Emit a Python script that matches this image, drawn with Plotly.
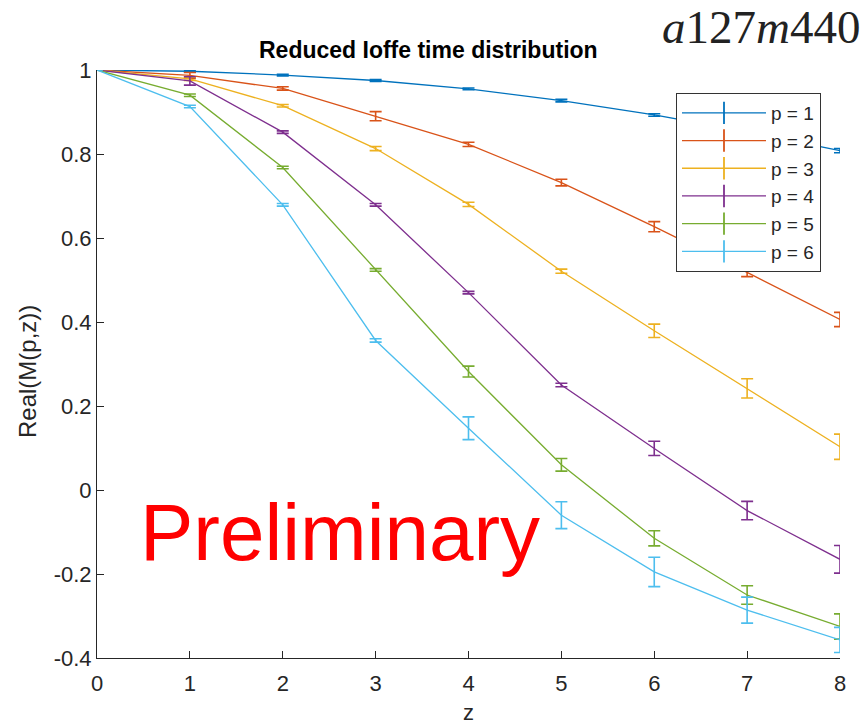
import plotly.graph_objects as go

z = [0, 1, 2, 3, 4, 5, 6, 7, 8]
labels = ["p = 1", "p = 2", "p = 3", "p = 4", "p = 5", "p = 6"]
colors = ["#0072BD", "#D95319", "#EDB120", "#7E2F8E", "#77AC30", "#4DBEEE"]

p1 = [1.0, 0.997, 0.988, 0.975, 0.955, 0.927, 0.893, 0.853, 0.808]
p2 = [1.0, 0.987, 0.956, 0.890, 0.823, 0.732, 0.627, 0.518, 0.406]
p3 = [1.0, 0.979, 0.915, 0.813, 0.680, 0.521, 0.379, 0.242, 0.103]
p4 = [1.0, 0.974, 0.852, 0.679, 0.470, 0.250, 0.099, -0.049, -0.165]
p5 = [1.0, 0.940, 0.768, 0.524, 0.282, 0.060, -0.115, -0.250, -0.325]
p6 = [1.0, 0.913, 0.679, 0.356, 0.147, -0.060, -0.195, -0.286, -0.357]

e1 = [0.0, 0.002, 0.002, 0.002, 0.002, 0.003, 0.003, 0.004, 0.005]
e2 = [0.0, 0.007, 0.004, 0.011, 0.005, 0.008, 0.012, 0.010, 0.017]
e3 = [0.0, 0.004, 0.003, 0.005, 0.005, 0.005, 0.016, 0.023, 0.030]
e4 = [0.0, 0.010, 0.003, 0.003, 0.003, 0.004, 0.017, 0.022, 0.033]
e5 = [0.0, 0.003, 0.003, 0.003, 0.013, 0.015, 0.018, 0.022, 0.030]
e6 = [0.0, 0.003, 0.003, 0.004, 0.027, 0.032, 0.035, 0.031, 0.030]

series = [p1, p2, p3, p4, p5, p6]
errors = [e1, e2, e3, e4, e5, e6]

fig = go.Figure()
for lab, col, ys, es in zip(labels, colors, series, errors):
    fig.add_trace(go.Scatter(
        x=z, y=ys, mode="lines", name=lab, showlegend=False,
        line=dict(color=col, width=1.3),
        error_y=dict(type="data", array=es, visible=True, color=col,
                     thickness=1.6, width=6),
    ))
# legend entries (line with vertical error-bar glyph, as in the original)
for lab, col in zip(labels, colors):
    fig.add_trace(go.Scatter(
        x=[None], y=[None], mode="lines+markers", name=lab,
        line=dict(color=col, width=1.3),
        marker=dict(symbol="line-ns-open", size=18,
                    line=dict(color=col, width=1.8)),
    ))

font = "Liberation Sans, Arial, sans-serif"
fig.update_layout(
    width=867, height=724,
    margin=dict(l=97, r=27, t=70, b=66),
    paper_bgcolor="white", plot_bgcolor="white",
    font=dict(family=font, size=21, color="#262626"),
    showlegend=True,
    legend=dict(x=(676 - 97) / 743, y=1 - (93 - 70) / 588,
                xanchor="left", yanchor="top",
                bgcolor="white", bordercolor="#333333", borderwidth=1,
                font=dict(size=19, color="#262626"), tracegroupgap=0,
                itemwidth=84),
    xaxis=dict(range=[0, 8], tickvals=[0, 1, 2, 3, 4, 5, 6, 7, 8],
               ticks="inside", ticklen=7, tickcolor="#262626",
               showline=True, linecolor="#262626", linewidth=1,
               showgrid=False, zeroline=False, automargin=False,
               tickfont=dict(size=22), ticklabelstandoff=6),
    yaxis=dict(range=[-0.4, 1.0], tickvals=[-0.4, -0.2, 0, 0.2, 0.4, 0.6, 0.8, 1],
               ticktext=["-0.4", "-0.2", "0", "0.2", "0.4", "0.6", "0.8", "1"],
               ticks="inside", ticklen=7, tickcolor="#262626",
               showline=True, linecolor="#262626", linewidth=1,
               showgrid=False, zeroline=False, automargin=False,
               tickfont=dict(size=22)),
)

fig.add_annotation(text="z", xref="paper", yref="paper",
                   x=(468 - 97) / 743, y=(658 - 712) / 588,
                   xanchor="center", yanchor="middle", showarrow=False,
                   font=dict(size=22, color="#262626", family=font))
fig.add_annotation(text="Real(M(p,z))", xref="paper", yref="paper",
                   x=(27 - 97) / 743, y=(658 - 372) / 588, textangle=-90,
                   xanchor="center", yanchor="middle", showarrow=False,
                   font=dict(size=24, color="#262626", family=font))
fig.add_annotation(text="<b>Reduced Ioffe time distribution</b>",
                   xref="paper", yref="paper",
                   x=(428 - 97) / 743, y=1 + (70 - 50) / 588,
                   xanchor="center", yanchor="middle", showarrow=False,
                   font=dict(size=23, color="#000000", family=font))
fig.add_annotation(text="<i>a</i>127<i>m</i>440",
                   xref="paper", yref="paper",
                   x=(862 - 97) / 743, y=1 + (70 - 27) / 588,
                   xanchor="right", yanchor="middle", showarrow=False,
                   font=dict(size=47, color="#222222",
                             family="Liberation Serif, DejaVu Serif, serif"))
fig.add_annotation(text="Preliminary", xref="x", yref="y",
                   x=(340 - 97) / 743 * 8, y=(490 - 532) / 420,
                   xanchor="center", yanchor="middle", showarrow=False,
                   font=dict(size=80, color="#FF0000", family=font))

fig.write_html("out.html")
